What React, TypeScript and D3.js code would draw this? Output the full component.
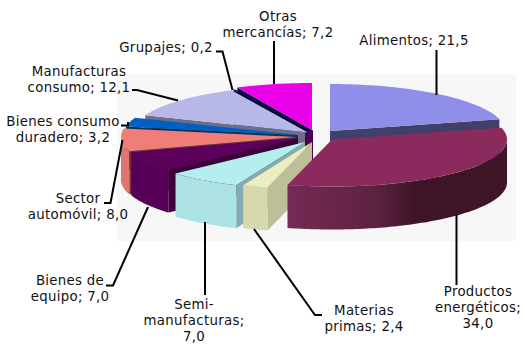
import React from "react";
import * as d3 from "d3";

const categories = ["Alimentos","Productos energéticos","Materias primas","Semimanufacturas","Bienes de equipo","Sector automóvil","Bienes consumo duradero","Manufacturas consumo","Grupajes","Otras mercancías"];
const values = [21.5,34.0,2.4,7.0,7.0,8.0,3.2,12.1,0.2,7.2];

// layout: exploded slice centres, and paint order (back to front)
const apexX = [330,332,312,305,298,296,298,308,310,312];
const apexY = [131,139.5,142,142,138,137,135,132.5,132,130];
const backOrder = [9,8,7,6,5,0,4];
const frontOrder = [3,2,1];
const topColors = ["#8F8FE9","#8B2B5D","#EDEDBE","#B5EEEE","#5C005C","#EF7E78","#0060C0","#B8B8E8","#101050","#E800E8"];
const wallColors = ["#40406A","url(#prodWall)","#D8D8AE","#ADE2E2","#570057","#E07470","#004C9A","#8A8AB0","#000040","#700070"];
const cutColors = ["#40406A","#4A1A34","#BEBE98","#84ACB0","#3C003C","#6A3030","#0A3060","#6E6E88","#000040","#0A0A40"];
const otrasEdge: [number,number][] = [[305,133],[313,130],[313,160],[305,165]];

const labelLines = [
  ["Alimentos; 21,5"],["Productos","energéticos;","34,0"],["Materias","primas; 2,4"],["Semi-","manufacturas;","7,0"],
  ["Bienes de","equipo; 7,0"],["Sector","automóvil; 8,0"],["Bienes consumo","duradero; 3,2"],["Manufacturas","consumo; 12,1"],
  ["Grupajes; 0,2"],["Otras","mercancías; 7,2"],
];
const labelX = [414,478,364,194,70,78,63,79,166,278];
const labelY = [45,296,315,309,285,203,126,76,52,21];
const leaders: [number,number][][] = [
  [[436.5,50],[436.5,95]],
  [[456.5,215],[456.5,285]],
  [[254,229],[315,315],[322,315]],
  [[205,222],[205,295]],
  [[148,207],[113,285.5],[106,285.5]],
  [[122.5,140],[110.5,203],[104,203]],
  [[128,122],[128,125.5],[121,125.5]],
  [[132,90],[137,90],[178,100.5]],
  [[216,51.5],[222.5,51.5],[232.5,90]],
  [[274,41],[274,84]],
];

const W = 525, H = 344, RX = 175, RY = 47, DEPTH = 43;
const sx = d3.scaleLinear().domain([-1,1]).range([-RX,RX]);
const sy = d3.scaleLinear().domain([-1,1]).range([RY,-RY]);
const arcs = d3.pie<number>().sort(null).startAngle(0).endAngle(2*Math.PI)(values);
const line = d3.line();
const PI = Math.PI;

function pt(i:number, t:number, dz=0):[number,number]{
  return [apexX[i]+sx(Math.sin(t)), apexY[i]+sy(Math.cos(t))+dz];
}
function sweep(i:number,a:number,b:number,dz=0):[number,number][]{
  const n = Math.max(2,Math.ceil((b-a)/0.02));
  return d3.range(n+1).map(k=>pt(i,a+(b-a)*k/n,dz));
}
function Slice({i}:{i:number}){
  const a = arcs[i].startAngle, b = arcs[i].endAngle;
  const apex:[number,number] = [apexX[i],apexY[i]];
  const apex2:[number,number] = [apexX[i],apexY[i]+DEPTH];
  const faces:React.ReactNode[] = [];
  if(Math.sin(a)<0) faces.push(<path key="s" d={line([apex,pt(i,a),pt(i,a,DEPTH),apex2])+"Z"} fill={cutColors[i]} />);
  if(Math.sin(b)>0) faces.push(<path key="e" d={line([apex,pt(i,b),pt(i,b,DEPTH),apex2])+"Z"} fill={cutColors[i]} />);
  const wa = Math.max(a,PI/2), wb = Math.min(b,3*PI/2);
  if(wb>wa){
    const up = sweep(i,wa,wb), dn = sweep(i,wa,wb,DEPTH).reverse();
    faces.push(<path key="w" d={line([...up,...dn])+"Z"} fill={wallColors[i]} />);
  }
  const top = [apex,...sweep(i,a,b)];
  return <g>{faces}<path d={line(top)+"Z"} fill={topColors[i]} /></g>;
}

export default function App(){
  return (
    <svg width={W} height={H} style={{position:"absolute",left:0,top:0,background:"#fff"}} fontFamily="'DejaVu Sans', Verdana, sans-serif" fontSize={13.33} letterSpacing={0.3}>
      <defs>
        <linearGradient id="prodWall" gradientUnits="userSpaceOnUse" x1={288} x2={507} y1={0} y2={0}>
          <stop offset="0" stopColor="#752A55" />
          <stop offset="0.4" stopColor="#5E2242" />
          <stop offset="0.58" stopColor="#3E1528" />
          <stop offset="1" stopColor="#401528" />
        </linearGradient>
      </defs>
      <rect x={117} y={74} width={399} height={167} fill="#F7F7F7" />
      {backOrder.map(i=><Slice key={categories[i]} i={i} />)}
      <path d={line(otrasEdge)+"Z"} fill="#4C0050" />
      {frontOrder.map(i=><Slice key={categories[i]} i={i} />)}
      {leaders.map((l,i)=><path key={i} d={line(l)!} fill="none" stroke="#000" strokeWidth={2} />)}
      {labelLines.map((ls,i)=>(
        <text key={i} textAnchor="middle" fill="#111">
          {ls.map((s,k)=><tspan key={k} x={labelX[i]} y={labelY[i]+k*16}>{s}</tspan>)}
        </text>
      ))}
    </svg>
  );
}
